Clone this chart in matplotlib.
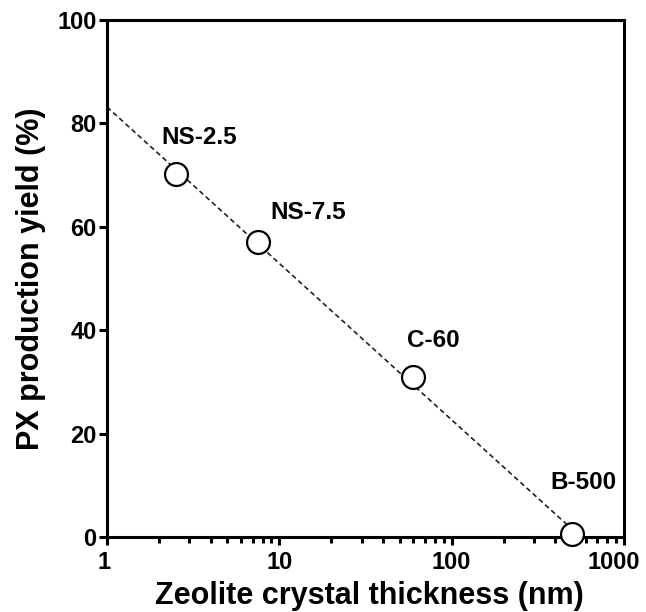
import numpy as np
import matplotlib
matplotlib.use("Agg")
import matplotlib.pyplot as plt
from matplotlib.ticker import LogLocator, NullFormatter
from matplotlib.transforms import ScaledTranslation

samples = ["NS-2.5", "NS-7.5", "C-60", "B-500"]
thickness = [2.5, 7.5, 60, 500]
yield_px = [70.2, 57.1, 30.9, 0.5]
xtick_vals = [1, 10, 100, 1000]
xtick_labels = ['1', '10', '100', '1000']
ytick_vals = [0, 20, 40, 60, 80, 100]

plt.rcParams['font.family'] = ['Liberation Sans', 'DejaVu Sans']
plt.rcParams['font.weight'] = 'bold'

fig = plt.figure(figsize=(6.46, 6.12), dpi=100)
ax = fig.add_axes([107/646, 1 - 537/612, (624-107)/646, (537-20)/612])

# regression line through the points
b, a = np.polyfit(np.log10(thickness), yield_px, 1)
x_end = 10 ** (-a / b)
xs = np.logspace(0, np.log10(x_end), 50)
ax.plot(xs, a + b*np.log10(xs), linestyle=(0, (3, 2)), color='#222222', lw=1.2, zorder=2)

ax.plot(thickness, yield_px, 'o', ms=16.5, mfc='white', mec='black', mew=1.6,
        clip_on=False, zorder=5)

# label offsets in points (dx, dy to baseline)
offsets = [(17, 21.5), (36, 16.5), (14.5, 21.5), (8, 33)]
for s, x, y, (dx, dy) in zip(samples, thickness, yield_px, offsets):
    ax.annotate(s, (x, y), xytext=(dx, dy), textcoords='offset points',
                ha='center', va='baseline', fontsize=17.5, fontweight='bold')

ax.set_xscale('log')
ax.set_xlim(1, 1000)
ax.set_ylim(0, 100)
ax.set_xticks(xtick_vals)
ax.set_xticklabels(xtick_labels)
ax.xaxis.set_minor_locator(LogLocator(base=10, subs=np.arange(2, 10)))
ax.xaxis.set_minor_formatter(NullFormatter())
ax.set_yticks(ytick_vals)

for sp in ax.spines.values():
    sp.set_linewidth(2.2)
ax.tick_params(axis='both', which='major', direction='out', length=5.5, width=2.2,
               labelsize=17, pad=2)
ax.tick_params(axis='x', which='major', pad=4.5)
ax.tick_params(axis='x', which='minor', direction='out', length=4.5, width=2.2)

shifts = [-3, 0, 0, -10]
for lab, dx in zip(ax.get_xticklabels(), shifts):
    lab.set_transform(lab.get_transform() + ScaledTranslation(dx/100, 0, fig.dpi_scale_trans))

ax.set_xlabel('Zeolite crystal thickness (nm)', fontsize=22, fontweight='bold', labelpad=5)
ax.set_ylabel('PX production yield (%)', fontsize=22, fontweight='bold', labelpad=8)
ax.xaxis.label.set_transform(ax.xaxis.label.get_transform() +
                             ScaledTranslation(4/100, 0, fig.dpi_scale_trans))

fig.savefig('out.png', dpi=100)
